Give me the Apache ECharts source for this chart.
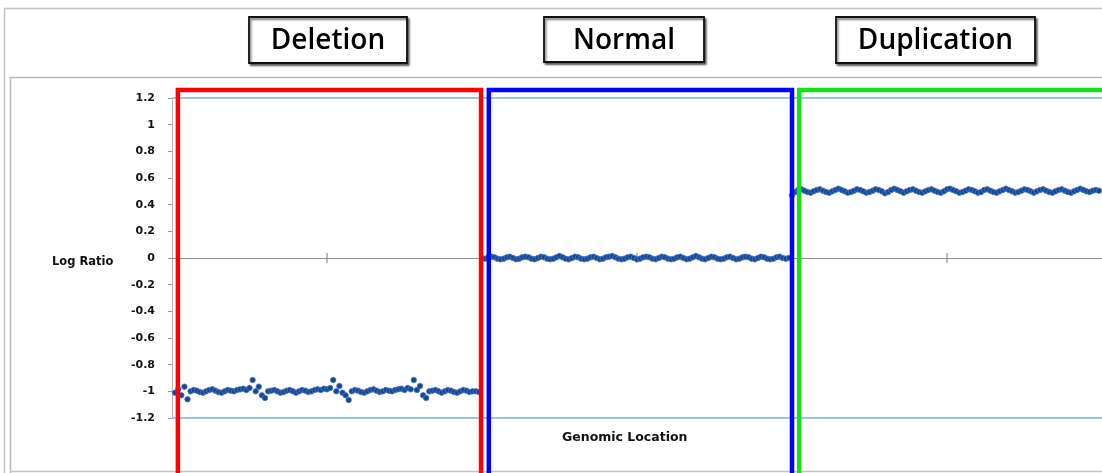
<!DOCTYPE html>
<html>
<head>
<meta charset="utf-8">
<script src="https://cdn.jsdelivr.net/npm/echarts@6/dist/echarts.min.js"></script>
<style>
html,body{margin:0;padding:0;background:#fff;}
#c{width:1102px;height:473px;}
</style>
</head>
<body>
<div id="c"></div>
<script>
// ---------- data ----------
const regionLabels = ['Deletion', 'Normal', 'Duplication'];
const regionStart = [1.9, 102.2, 202.3];
const regionEnd = [99.7, 200, 320];
const regionTop = 1.26;
const regionBottom = -1.9;
const firstIndex = [1, 100, 200];
const yTicks = [-1.2, 1.2];
const xTickValues = [50, 150, 250];

const deletionValues = [
  -1.01, -0.985, -1.03, -0.965, -1.06, -1.0, -0.99, -0.995, -1.005, -1.01,
  -1.0, -0.99, -0.985, -0.995, -1.005, -1.01, -1.0, -0.99, -0.995, -1.0,
  -0.99, -0.985, -0.98, -0.99, -0.975, -0.915, -1.0, -0.965, -1.03, -1.05,
  -1.0, -0.995, -0.99, -1.0, -1.01, -1.005, -0.995, -0.99, -1.0, -1.01,
  -1.0, -0.99, -0.995, -1.005, -1.0, -0.99, -0.985, -0.99, -0.98, -0.985,
  -0.975, -0.915, -1.0, -0.96, -1.01, -1.03, -1.065, -1.0, -0.99, -0.995,
  -1.005, -1.01, -1.0, -0.99, -0.985, -0.995, -1.005, -1.0, -0.99, -0.995,
  -1.0, -0.99, -0.985, -0.98, -0.99, -0.975, -0.985, -0.915, -0.99, -0.96,
  -1.03, -1.05, -1.0, -0.995, -0.99, -1.0, -1.01, -1.0, -0.99, -0.995,
  -1.005, -1.01, -1.0, -0.99, -0.995, -1.005, -1.0, -1.0, -1.005
];
const normalValues = [
  0.0, -0.005, 0.005, 0.01, 0.005, -0.005, -0.01, -0.005, 0.005, 0.01,
  0.0, -0.01, -0.005, 0.005, 0.01, 0.005, -0.005, -0.01, 0.0, 0.01,
  0.005, -0.005, -0.01, -0.005, 0.005, 0.015, 0.005, -0.005, -0.01, 0.0,
  0.01, 0.005, -0.005, -0.01, -0.005, 0.005, 0.01, 0.0, -0.01, -0.005,
  0.005, 0.01, 0.015, 0.005, -0.005, -0.01, -0.005, 0.005, 0.01, 0.0,
  -0.01, -0.005, 0.005, 0.01, 0.005, -0.005, -0.01, 0.0, 0.01, 0.005,
  -0.005, -0.01, -0.005, 0.005, 0.01, 0.0, -0.01, -0.005, 0.005, 0.015,
  0.005, -0.005, -0.01, 0.0, 0.01, 0.005, -0.005, -0.01, -0.005, 0.005,
  0.01, 0.0, -0.01, -0.005, 0.005, 0.01, 0.005, -0.005, -0.01, 0.0,
  0.01, 0.005, -0.005, -0.01, -0.005, 0.005, 0.01, 0.0, -0.005, 0.0
];
const duplicationValues = [
  0.47, 0.495, 0.51, 0.515, 0.505, 0.495, 0.49, 0.5, 0.51, 0.515,
  0.505, 0.495, 0.49, 0.5, 0.51, 0.52, 0.51, 0.5, 0.49, 0.495,
  0.505, 0.515, 0.51, 0.5, 0.49, 0.495, 0.505, 0.515, 0.51, 0.5,
  0.485, 0.495, 0.51, 0.52, 0.51, 0.5, 0.49, 0.5, 0.51, 0.515,
  0.505, 0.495, 0.49, 0.5, 0.51, 0.515, 0.505, 0.495, 0.49, 0.5,
  0.515, 0.52, 0.51, 0.5, 0.49, 0.495, 0.505, 0.515, 0.51, 0.5,
  0.49, 0.495, 0.51, 0.515, 0.505, 0.495, 0.49, 0.5, 0.51, 0.52,
  0.51, 0.5, 0.49, 0.495, 0.505, 0.515, 0.51, 0.5, 0.49, 0.5,
  0.51, 0.515, 0.505, 0.495, 0.49, 0.5, 0.51, 0.515, 0.505, 0.495,
  0.49, 0.5, 0.51, 0.52, 0.51, 0.5, 0.495, 0.505, 0.51, 0.505
];

// ---------- build ----------
const seriesValues = [deletionValues, normalValues, duplicationValues];
const points = [];
seriesValues.forEach((arr, r) => arr.forEach((v, k) => points.push([firstIndex[r] + k, v])));
const boxColors = ['#ff0000', '#0000ff', '#18e018'];
const boxData = regionStart.map((s, i) => [s, regionEnd[i], regionTop, regionBottom, i]);
const tickMarks = xTickValues.map(v => [v, 0]);

const chart = echarts.init(document.getElementById('c'), null, {renderer: 'canvas'});

const labelBoxes = [
  {x: 249, y: 17, w: 158, h: 46},
  {x: 544, y: 17, w: 160, h: 45},
  {x: 836, y: 17, w: 199, h: 46}
];
const graphics = [
  {type: 'polyline', shape: {points: [[4.5, 473], [4.5, 8.5], [1102, 8.5]]}, style: {stroke: '#c4c4c4', lineWidth: 1.5, fill: null}, z: 0},
  {type: 'polyline', shape: {points: [[10.5, 473], [10.5, 77.5], [1102, 77.5]]}, style: {stroke: '#b8b8b8', lineWidth: 1.5, fill: null}, z: 0},
  {type: 'line', shape: {x1: 10, y1: 471.5, x2: 1102, y2: 471.5}, style: {stroke: '#c4c4c4', lineWidth: 1.5}, z: 0},
  {type: 'text', left: 52, top: 256, style: {text: 'Log Ratio', font: 'bold 11.5px "DejaVu Sans"', fill: '#111'}},
  {type: 'text', left: 562, top: 431, style: {text: 'Genomic Location', font: 'bold 12.5px "DejaVu Sans"', fill: '#111'}}
];
labelBoxes.forEach((b, i) => {
  graphics.push({
    type: 'rect', shape: {x: b.x, y: b.y, width: b.w, height: b.h},
    style: {fill: '#fff', stroke: '#111', lineWidth: 1.8, shadowColor: 'rgba(0,0,0,0.55)', shadowBlur: 2, shadowOffsetX: 1.5, shadowOffsetY: 2}
  });
  graphics.push({
    type: 'text', x: b.x + b.w / 2, y: b.y + b.h / 2 + 1.5,
    style: {text: regionLabels[i], font: '600 28px "Open Sans"', fill: '#000', align: 'center', verticalAlign: 'middle'}
  });
});

chart.setOption({
  animation: false,
  backgroundColor: '#fff',
  grid: {left: 172, right: -3, top: 98, bottom: 55},
  xAxis: {
    type: 'value', min: 0, max: 300,
    axisLine: {onZero: true, lineStyle: {color: '#8f8f8f', width: 1}},
    axisTick: {show: false},
    axisLabel: {show: false},
    splitLine: {show: false}
  },
  yAxis: {
    type: 'value', min: -1.2, max: 1.2, interval: 0.2,
    axisLine: {show: true, lineStyle: {color: '#aab4c0', width: 1}},
    axisTick: {show: true, length: 4, lineStyle: {color: '#999'}},
    axisLabel: {
      color: '#111', fontWeight: 'bold', fontSize: 11, fontFamily: 'DejaVu Sans', margin: 17,
      formatter: v => String(Math.round(v * 10) / 10)
    },
    splitLine: {show: false}
  },
  graphic: graphics,
  series: [
    {
      type: 'scatter', data: tickMarks, symbol: 'rect', symbolSize: [1.2, 10], z: 2, silent: true,
      itemStyle: {color: '#8f8f8f', opacity: 1}
    },
    {
      type: 'scatter', data: points, symbolSize: 5.5, z: 3,
      itemStyle: {color: '#17478f', opacity: 1, borderColor: 'rgba(70,120,200,0.8)', borderWidth: 1},
      markLine: {
        silent: true, symbol: 'none', label: {show: false},
        lineStyle: {color: '#9fc2e8', width: 2, type: 'solid'},
        data: yTicks.map(v => ({yAxis: v}))
      }
    },
    {
      type: 'custom', clip: false, z: 5, data: boxData,
      renderItem: (params, api) => {
        const p0 = api.coord([api.value(0), api.value(3)]);
        const p1 = api.coord([api.value(0), api.value(2)]);
        const p2 = api.coord([api.value(1), api.value(2)]);
        const p3 = api.coord([api.value(1), api.value(3)]);
        return {
          type: 'polyline',
          shape: {points: [p0, p1, p2, p3]},
          style: {stroke: boxColors[api.value(4)], lineWidth: 4.5, fill: null, lineJoin: 'miter'}
        };
      }
    }
  ]
});
</script>
</body>
</html>
